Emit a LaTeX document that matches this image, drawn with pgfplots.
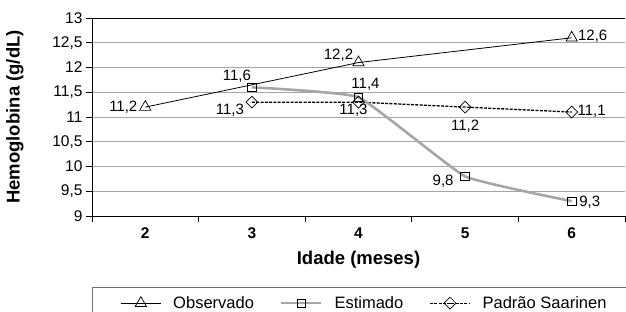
\documentclass[border=0pt]{standalone}
\usepackage{fontspec}
\setmainfont{Liberation Sans}
\usepackage{pgfplots}
\pgfplotsset{compat=1.18}
\usepackage{pgfplotstable}
\definecolor{gridgray}{RGB}{165,165,165}
\definecolor{estgray}{RGB}{166,166,166}
\definecolor{leggray}{RGB}{110,110,110}

\pgfplotstableread{
x y label dx dy
2 11.2 11,2 -22 -4
4 12.1 12,2 -20 3
6 12.6 12,6 21 -3
}\obs
\pgfplotstableread{
x y label dx dy
3 11.6 11,6 -15 7
4 11.4 11,4 7 9
5 9.8 9,8 -22 -9
6 9.3 9,3 18 -5
}\est
\pgfplotstableread{
x y label dx dy
3 11.3 11,3 -22 -12
4 11.3 11,3 -5 -12
5 11.2 11,2 0 -23
6 11.1 11,1 20 -3
}\pad

\begin{document}
\begin{tikzpicture}
\begin{axis}[
  scale only axis, width=533bp, height=198bp,
  at={(0,0)}, anchor=south west,
  xmin=1.5, xmax=6.5, ymin=9, ymax=13,
  xtick={1.5,2.5,3.5,4.5,5.5,6.5},
  xticklabels={2,3,4,5,6},
  x tick label as interval,
  ytick={9,9.5,10,10.5,11,11.5,12,12.5,13},
  ymajorgrids,
  major grid style={gridgray, line width=0.8bp},
  tick align=outside, major tick length=6bp,
  tick style={black, line width=0.8bp},
  axis x line*=bottom, axis y line*=left,
  axis line style={-, black, line width=0.9bp},
  xticklabel style={font=\bfseries\fontsize{15.5bp}{18bp}\selectfont, yshift=-2bp},
  yticklabel style={font=\fontsize{15.5bp}{18bp}\selectfont,
    /pgf/number format/use comma, /pgf/number format/1000 sep={},
    /pgf/number format/assume math mode=true},
  xlabel={Idade (meses)},
  ylabel={Hemoglobina (g/dL)},
  every axis x label/.style={at={(axis description cs:0.5,-0.2222)}, anchor=center,
    font=\bfseries\fontsize{18.5bp}{21bp}\selectfont},
  every axis y label/.style={at={(axis description cs:-0.1445,0.5)}, anchor=center, rotate=90,
    font=\bfseries\fontsize{18.5bp}{21bp}\selectfont},
  clip=false,
  legend columns=3,
  legend image code/.code={\draw[mark repeat=2,mark phase=2] plot coordinates {(0bp,0bp) (20bp,0bp) (40bp,0bp)};},
  legend style={at={(axis description cs:0,-0.3586)}, anchor=north west,
    draw=leggray, line width=0.9bp, inner xsep=28bp, inner ysep=9bp,
    font=\fontsize{16.5bp}{19bp}\selectfont,
    nodes={inner sep=0pt},
    /tikz/every odd column/.append style={column sep=12bp},
    /tikz/every even column/.append style={column sep=26bp}},
  legend cell align=left,
  point meta=explicit symbolic,
  visualization depends on={\thisrow{dx} \as \dx},
  visualization depends on={\thisrow{dy} \as \dy},
  nodes near coords style={anchor=base, inner sep=0pt, xshift=\dx bp, yshift=\dy bp,
    font=\fontsize{15bp}{18bp}\selectfont, text=black},
]
\addlegendimage{black, line width=0.8bp, mark=triangle, mark size=6.5bp, mark options={solid, fill=white, line width=0.7bp}}
\addlegendentry{Observado}
\addlegendimage{estgray, line width=2.6bp, mark=square, mark size=4.3bp, mark options={solid, fill=white, draw=black, line width=0.7bp}}
\addlegendentry{Estimado}
\addlegendimage{black, line width=1.3bp, dash pattern=on 3bp off 1.3bp, mark=square, mark size=4.2bp, mark options={solid, rotate=45, fill=white, draw=black, line width=0.7bp}}
\addlegendentry{Padrão Saarinen}

\addplot[forget plot, black, line width=1.3bp, dash pattern=on 3bp off 1.3bp,
  mark=square, mark size=4.2bp, mark options={solid, rotate=45, fill=white, draw=black, line width=0.7bp},
  nodes near coords] table[x=x, y=y, meta=label] {\pad};
\addplot[forget plot, estgray, line width=2.6bp, smooth, tension=0.2,
  mark=square, mark size=4.3bp, mark options={solid, fill=white, draw=black, line width=0.7bp},
  nodes near coords] table[x=x, y=y, meta=label] {\est};
\addplot[forget plot, black, line width=0.8bp,
  mark=triangle, mark size=6.5bp, mark options={solid, fill=white, line width=0.7bp},
  nodes near coords] table[x=x, y=y, meta=label] {\obs};

\draw[black, line width=0.9bp] (rel axis cs:0,1) -- (rel axis cs:1,1);
\end{axis}
\pgfresetboundingbox
\useasboundingbox (-92bp,-96bp) rectangle (534bp,216bp);
\end{tikzpicture}
\end{document}
